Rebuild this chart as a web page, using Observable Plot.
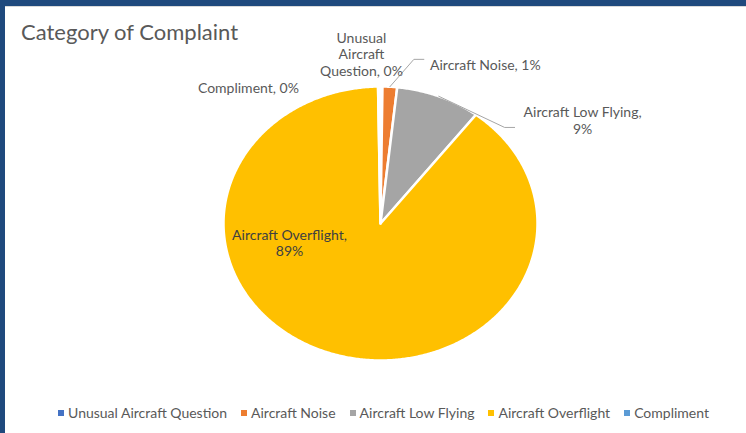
<!DOCTYPE html>
<html>
<head>
<meta charset="utf-8">
<script src="https://cdn.jsdelivr.net/npm/d3@7"></script>
<script src="https://cdn.jsdelivr.net/npm/@observablehq/plot@0.6"></script>
<style>
  html, body { margin: 0; padding: 0; background: #fff; }
  #page { position: relative; width: 746px; height: 433px; overflow: hidden; background: #fff; font-family: Lato, "Open Sans", sans-serif; }
  #topbar { position: absolute; left: 0; top: 0; width: 746px; height: 6px; background: #1F497D; }
  #topline { position: absolute; left: 0; top: 6px; width: 746px; height: 1px; background: #D9D9D9; }
  #leftbar { position: absolute; left: 0; top: 0; width: 5px; height: 433px; background: #1F497D; }
  #chart { position: absolute; left: 0; top: 0; }
  #chart svg { background: transparent; overflow: visible; }
  #title { position: absolute; left: 21px; top: 19px; font-size: 22px; line-height: 26px; color: #595959; white-space: nowrap; }
  #legend { position: absolute; left: 0; width: 767px; top: 405px; display: flex; justify-content: center; gap: 14px; font-size: 14px; line-height: 16px; color: #595959; white-space: nowrap; }
  .item { display: flex; align-items: center; gap: 4px; }
  .sw { width: 6px; height: 6px; display: inline-block; }
</style>
</head>
<body>
<div id="page">
  <div id="chart"></div>
  <div id="topbar"></div>
  <div id="topline"></div>
  <div id="leftbar"></div>
  <div id="title">Category of Complaint</div>
  <div id="legend"></div>
</div>
<script>
// ---- data ----
const categories = ["Unusual Aircraft Question", "Aircraft Noise", "Aircraft Low Flying", "Aircraft Overflight", "Compliment"];
const shares = [0.2, 1.5, 8.7, 89.3, 0.25];
const percentLabels = ["0%", "1%", "9%", "89%", "0%"];
const colors = ["#4472C4", "#ED7D31", "#A5A5A5", "#FFC000", "#5B9BD5"];

// ---- label layout (polar position in pie units, wrapping, leader) ----
const labelLayout = [
  {angle: -5.6, r: 1.243, wrap: 12, leader: false, fill: "#595959"},
  {angle: 29.9, r: 1.340, wrap: 30, leader: true, leaderDy: -5, halfChars: 18, fill: "#595959"},
  {angle: 59.7, r: 1.491, wrap: 20, leader: true, leaderDy: 7, halfChars: 20, fill: "#595959"},
  {angle: 256.5, r: 0.596, wrap: 20, leader: false, fill: "#404040"},
  {angle: -40.3, r: 1.301, wrap: 30, leader: false, fill: "#595959"}
];

const RX = 157, RY = 137; // pixel radii used to convert pixel offsets
const rad = a => a * Math.PI / 180;
const polar = (deg, r) => [r * Math.sin(rad(deg)), r * Math.cos(rad(deg))];

function wrapText(s, max) {
  const words = s.split(" ");
  const lines = [];
  let cur = "";
  for (const w of words) {
    if (cur && (cur + " " + w).length > max) { lines.push(cur); cur = w; }
    else cur = cur ? cur + " " + w : w;
  }
  if (cur) lines.push(cur);
  return lines.join("\n");
}

const pieData = categories.map((c, i) => ({category: c, value: shares[i], pct: percentLabels[i]}));
const arcs = d3.pie().sort(null).value(d => d.value).startAngle(0).endAngle(2 * Math.PI)(pieData);

// slice polygons
const slicePoints = [];
for (const a of arcs) {
  const c = a.data.category;
  slicePoints.push({category: c, x: 0, y: 0});
  const span = a.endAngle - a.startAngle;
  const n = Math.max(2, Math.ceil(span / rad(0.5)));
  for (let k = 0; k <= n; k++) {
    const t = a.startAngle + span * k / n;
    slicePoints.push({category: c, x: Math.sin(t), y: Math.cos(t)});
  }
  slicePoints.push({category: c, x: 0, y: 0});
}

// labels
const labels = arcs.map((a, i) => {
  const L = labelLayout[i];
  const [x, y] = polar(L.angle, L.r);
  return {category: a.data.category, x, y, fill: L.fill,
          text: wrapText(`${a.data.category}, ${a.data.pct}`, L.wrap)};
});

// leader lines
const leaderPoints = [];
arcs.forEach((a, i) => {
  const L = labelLayout[i];
  if (!L.leader) return;
  const mid = (a.startAngle + a.endAngle) / 2;
  const lab = labels[i];
  const endX = lab.x - (L.halfChars * 6.5 / 2 + 3) / RX;
  const endY = lab.y - L.leaderDy / RY;
  const elbowX = endX - 10 / RX;
  leaderPoints.push({category: a.data.category, x: Math.sin(mid), y: Math.cos(mid)});
  leaderPoints.push({category: a.data.category, x: elbowX, y: endY});
  leaderPoints.push({category: a.data.category, x: endX, y: endY});
});

const chart = Plot.plot({
  width: 746,
  height: 433,
  marginLeft: 223,
  marginRight: 209,
  marginTop: 86,
  marginBottom: 73,
  x: {domain: [-1, 1], axis: null},
  y: {domain: [-1, 1], axis: null},
  color: {domain: categories, range: colors},
  style: {background: "transparent", fontFamily: "Lato, 'Open Sans', sans-serif", fontSize: "14px", overflow: "visible"},
  marks: [
    Plot.line(slicePoints, {x: "x", y: "y", z: "category", fill: "category", stroke: "white", strokeWidth: 2.5, strokeLinejoin: "miter", strokeMiterlimit: 2}),
    Plot.line(leaderPoints, {x: "x", y: "y", z: "category", stroke: "#A6A6A6", strokeWidth: 1}),
    Plot.text(labels, {x: "x", y: "y", text: "text", fill: "fill", lineHeight: 1.18, fontSize: 14})
  ]
});
document.getElementById("chart").appendChild(chart);

// legend
const legend = document.getElementById("legend");
categories.forEach((c, i) => {
  const item = document.createElement("div");
  item.className = "item";
  const sw = document.createElement("span");
  sw.className = "sw";
  sw.style.background = colors[i];
  const tx = document.createElement("span");
  tx.textContent = c;
  item.appendChild(sw);
  item.appendChild(tx);
  legend.appendChild(item);
});
</script>
</body>
</html>
